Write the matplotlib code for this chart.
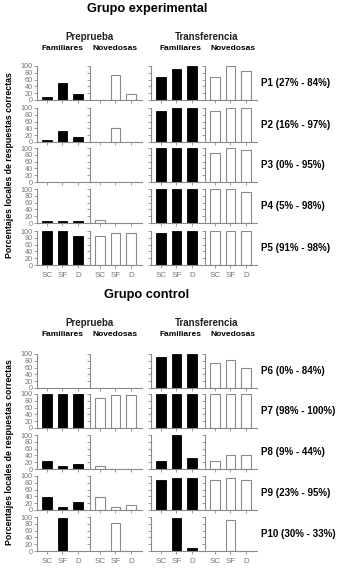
import matplotlib
matplotlib.use("Agg")
import matplotlib.pyplot as plt
import numpy as np

plt.rcParams['font.family'] = ['Liberation Sans', 'DejaVu Sans']

categories = ["SC", "SF", "D"]
yticks = [0, 20, 40, 60, 80, 100]

# Grupo experimental: [pre_fam, pre_nov, trans_fam, trans_nov]
p1 = [[8, 49, 17], [0, 75, 17], [67, 91, 100], [68, 100, 85]]
p2 = [[7, 32, 15], [0, 41, 0], [91, 100, 100], [91, 100, 100]]
p3 = [[0, 0, 0], [0, 0, 0], [100, 100, 100], [85, 100, 93]]
p4 = [[7, 7, 7], [8, 0, 0], [100, 100, 100], [100, 100, 92]]
p5 = [[100, 100, 85], [85, 94, 94], [94, 100, 100], [100, 100, 100]]
# Grupo control
p6 = [[0, 0, 0], [0, 0, 0], [92, 100, 100], [75, 83, 58]]
p7 = [[100, 100, 100], [88, 97, 97], [100, 100, 100], [100, 100, 100]]
p8 = [[23, 8, 16], [9, 0, 0], [24, 100, 32], [25, 42, 42]]
p9 = [[39, 8, 24], [39, 8, 15], [88, 95, 95], [88, 95, 88]]
p10 = [[0, 97, 0], [0, 82, 0], [0, 97, 8], [0, 90, 0]]

labels_exp = ["P1 (27% - 84%)", "P2 (16% - 97%)", "P3 (0% - 95%)",
              "P4 (5% - 98%)", "P5 (91% - 98%)"]
labels_ctl = ["P6 (0% - 84%)", "P7 (98% - 100%)", "P8 (9% - 44%)",
              "P9 (23% - 95%)", "P10 (30% - 33%)"]
data_exp = [p1, p2, p3, p4, p5]
data_ctl = [p6, p7, p8, p9, p10]

W, H = 337, 573
fig = plt.figure(figsize=(W / 100, H / 100), dpi=100)
fig.patch.set_facecolor("white")

col_left = [37, 90, 151, 205]
ax_w = 52
ax_h = 34
rows_exp = [66, 108, 148, 189, 231]
rows_ctl = [354, 394, 435, 476, 517]
gray = "#8a8a8a"

def px(x, y):
    return x / W, 1 - y / H

def draw_group(data, labels, rows, title_y):
    fig.text(*px(147, title_y), "Grupo experimental" if data is data_exp else "Grupo control",
             ha="center", va="center", fontsize=9.2, fontweight="bold")
    fig.text(*px(89, title_y + 28), "Preprueba", ha="center", va="center",
             fontsize=7, fontweight="bold", color="#222222")
    fig.text(*px(207, title_y + 28), "Transferencia", ha="center", va="center",
             fontsize=7, fontweight="bold", color="#222222")
    for cx, t in zip([62, 115, 180, 233], ["Familiares", "Novedosas", "Familiares", "Novedosas"]):
        fig.text(*px(cx, title_y + 40), t, ha="center", va="center",
                 fontsize=6, fontweight="bold")
    x = np.arange(len(categories))
    for r, (pdata, lab, top) in enumerate(zip(data, labels, rows)):
        for c in range(4):
            l, b = px(col_left[c], top + ax_h)
            ax = fig.add_axes([l, b, ax_w / W, ax_h / H])
            vals = pdata[c]
            if c in (0, 2):
                ax.bar(x, vals, width=0.62, color="black", edgecolor="black", linewidth=0.6)
            else:
                ax.bar(x, vals, width=0.62, color="white", edgecolor=gray, linewidth=0.8)
            ax.set_xlim(-0.62, 2.7)
            ax.set_ylim(0, 100)
            for s in ("top", "right"):
                ax.spines[s].set_visible(False)
            for s in ("left", "bottom"):
                ax.spines[s].set_color(gray)
                ax.spines[s].set_linewidth(0.8)
            ax.set_yticks(yticks)
            ax.set_xticks(x)
            ax.tick_params(axis="both", direction="out", length=2, width=0.6,
                           color=gray, labelsize=5.2, labelcolor="#777777", pad=1)
            if c != 0:
                ax.set_yticklabels([])
            if r == len(data) - 1:
                ax.set_xticklabels(categories, fontsize=5.8)
                ax.tick_params(axis="x", pad=3)
            else:
                ax.set_xticklabels([])
            ax.set_facecolor("none")
        fig.text(*px(261, top + ax_h / 2), lab, ha="left", va="center",
                 fontsize=7, fontweight="bold")
    yc = (rows[0] + rows[-1] + ax_h) / 2
    fig.text(*px(10, yc), "Porcentajes locales de respuestas correctas", rotation=90,
             ha="center", va="center", fontsize=6.3, fontweight="bold")

draw_group(data_exp, labels_exp, rows_exp, 9)
draw_group(data_ctl, labels_ctl, rows_ctl, 295)

fig.savefig("out.png", dpi=100, facecolor="white")
